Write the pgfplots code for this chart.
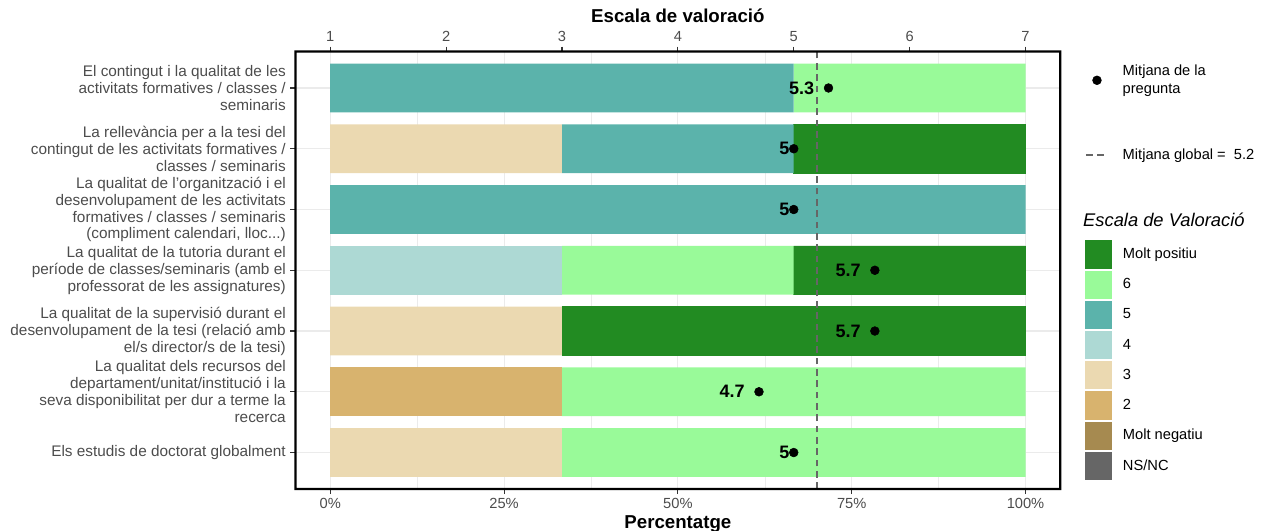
\documentclass[border=0pt]{standalone}
\usepackage{fontspec}
\setmainfont{Liberation Sans}
\usepackage{pgfplots}
\pgfplotsset{compat=1.18}

\definecolor{cNS}{HTML}{666666}
\definecolor{cMN}{HTML}{A68A50}
\definecolor{cTwo}{HTML}{D8B36E}
\definecolor{cThree}{HTML}{EBD9B1}
\definecolor{cFour}{HTML}{ADD9D4}
\definecolor{cFive}{HTML}{5BB3AB}
\definecolor{cSix}{HTML}{99FA99}
\definecolor{cSeven}{HTML}{228B22}

\newcommand{\txt}{\fontsize{11}{13}\selectfont}
\newcommand{\ytxt}{\fontsize{11.5}{12.7}\selectfont}

\begin{document}
\begin{tikzpicture}
\useasboundingbox (0pt,0pt) rectangle (951pt,-398.25pt);

% stacked bars, bottom axis in percent
\begin{axis}[
    at={(221.6pt,-366.75pt)}, anchor=south west,
    scale only axis, width=573.6pt, height=328.1pt,
    xbar stacked, bar width=0.8,
    xmin=-5, xmax=105, ymin=0.4, ymax=7.6,
    xtick={0,25,50,75,100},
    xticklabels={0\%,25\%,50\%,75\%,100\%},
    minor xtick={12.5,37.5,62.5,87.5},
    ytick={1,2,3,4,5,6,7},
    yticklabels={
        {Els estudis de doctorat globalment},
        {La qualitat dels recursos del\\departament/unitat/institució i la\\seva disponibilitat per dur a terme la\\recerca},
        {La qualitat de la supervisió durant el\\desenvolupament de la tesi (relació amb\\el/s director/s de la tesi)},
        {La qualitat de la tutoria durant el\\període de classes/seminaris (amb el\\professorat de les assignatures)},
        {La qualitat de l'organització i el\\desenvolupament de les activitats\\formatives / classes / seminaris\\(compliment calendari, lloc.{}.{}.)},
        {La rellevància per a la tesi del\\contingut de les activitats formatives /\\classes / seminaris},
        {El contingut i la qualitat de les\\activitats formatives / classes /\\seminaris}},
    xmajorgrids, xminorgrids, ymajorgrids,
    major grid style={black!8, line width=0.8pt},
    minor grid style={black!8, line width=0.4pt},
    axis line style={black, line width=1pt},
    tick align=outside, xtick pos=bottom, ytick pos=left,
    major tick length=3.75pt, minor tick length=0pt,
    tick style={black!80, line width=0.8pt},
    tick label style={font=\txt, text=black!70},
    y tick label style={align=right, font=\ytxt},
    xlabel={Percentatge},
    xlabel style={font=\bfseries\fontsize{14}{16}\selectfont, yshift=2pt},
    reverse legend,
    legend cell align=left,
    legend image code/.code={\draw[#1, draw=white, line width=0.75pt] (0pt,-10.95pt) rectangle (21.5pt,10.95pt);},
    legend style={at={(axis description cs:1.0301,0.5714)}, anchor=north west,
        draw=none, fill=none, inner sep=0pt, row sep=0pt,
        nodes={inner sep=0pt, anchor=west, font=\txt, text=black},
        /tikz/every odd column/.append style={column sep=7.3pt}},
]
\addplot[fill=cNS, draw=cNS, line width=0.9pt] coordinates
    {(0,1) (0,2) (0,3) (0,4) (0,5) (0,6) (0,7)};
\addlegendentry{NS/NC}
\addplot[fill=cMN, draw=none] coordinates
    {(0,1) (0,2) (0,3) (0,4) (0,5) (0,6) (0,7)};
\addlegendentry{Molt negatiu}
\addplot[fill=cTwo, draw=none] coordinates
    {(0,1) (33.3333,2) (0,3) (0,4) (0,5) (0,6) (0,7)};
\addlegendentry{2}
\addplot[fill=cThree, draw=none] coordinates
    {(33.3333,1) (0,2) (33.3333,3) (0,4) (0,5) (33.3333,6) (0,7)};
\addlegendentry{3}
\addplot[fill=cFour, draw=none] coordinates
    {(0,1) (0,2) (0,3) (33.3333,4) (0,5) (0,6) (0,7)};
\addlegendentry{4}
\addplot[fill=cFive, draw=none] coordinates
    {(0,1) (0,2) (0,3) (0,4) (100,5) (33.3333,6) (66.6667,7)};
\addlegendentry{5}
\addplot[fill=cSix, draw=none] coordinates
    {(66.6667,1) (66.6667,2) (0,3) (33.3333,4) (0,5) (0,6) (33.3333,7)};
\addlegendentry{6}
\addplot[fill=cSeven, draw=cSeven, line width=0.6pt] coordinates
    {(0,1) (0,2) (66.6667,3) (33.3333,4) (0,5) (33.3333,6) (0,7)};
\addlegendentry{Molt positiu}
\end{axis}

\node[anchor=west, inner sep=0pt, font=\itshape\fontsize{13.75}{16}\selectfont]
    at (812.2pt,-165pt) {Escala de Valoració};

% top axis on the 1-7 scale: means and global mean
\begin{axis}[
    at={(221.6pt,-366.75pt)}, anchor=south west,
    scale only axis, width=573.6pt, height=328.1pt,
    xmin=0.7, xmax=7.3, ymin=0.4, ymax=7.6,
    axis x line*=top, axis y line=none,
    xtick={1,2,3,4,5,6,7}, xticklabels={1,2,3,4,5,6,7},
    axis line style={black, line width=1pt},
    tick align=outside, major tick length=3.75pt,
    tick style={black!80, line width=0.8pt},
    tick label style={font=\txt, text=black!70},
    xlabel={Escala de valoració},
    xlabel style={font=\bfseries\fontsize{14}{16}\selectfont},
    clip=false,
    legend cell align=left,
    legend style={at={(axis description cs:1.0323,0.9691)}, anchor=north west,
        draw=none, fill=none, inner sep=0pt, row sep=40pt,
        nodes={inner sep=0pt, anchor=west, align=left, font=\txt, text=black},
        /tikz/every odd column/.append style={column sep=10.5pt}},
]
\addplot[only marks, mark=*, mark size=3.3pt, black,
    legend image code/.code={\path[draw=none, fill=none] (0pt,0pt) -- (16.5pt,0pt); \fill[black] (8.25pt,0pt) circle (3.3pt);}]
    coordinates {(5.3,7) (5,6) (5,5) (5.7,4) (5.7,3) (4.7,2) (5,1)};
\addlegendentry{Mitjana de la\\pregunta}
\addplot[black!60, line width=1.1pt, dash pattern=on 5pt off 3.5pt,
    legend image code/.code={\draw[black!60, line width=1.1pt, dash pattern=on 5pt off 3.5pt] (0pt,0pt) -- (16.5pt,0pt);}]
    coordinates {(5.2,0.4) (5.2,7.6)};
\addlegendentry{Mitjana global = \ 5.2}
\addplot[forget plot, draw=none, mark=none, nodes near coords, point meta=explicit symbolic,
    nodes near coords style={anchor=east, xshift=-10.5pt, inner sep=0pt,
        font=\bfseries\fontsize{13.5}{15}\selectfont, text=black}]
    table[meta=l] {
x y l
5.3 7 5.3
5.7 4 5.7
5.7 3 5.7
4.7 2 4.7
};
\addplot[forget plot, draw=none, mark=none, nodes near coords, point meta=explicit symbolic,
    nodes near coords style={anchor=east, xshift=-3pt, inner sep=0pt,
        font=\bfseries\fontsize{13.5}{15}\selectfont, text=black}]
    table[meta=l] {
x y l
5 6 5
5 5 5
5 1 5
};
\end{axis}

% panel border, drawn as a filled frame
\fill[black, even odd rule]
    (220.8pt,-367.55pt) rectangle (796pt,-37.85pt)
    (222.4pt,-365.95pt) rectangle (794.4pt,-39.45pt);
\end{tikzpicture}
\end{document}
